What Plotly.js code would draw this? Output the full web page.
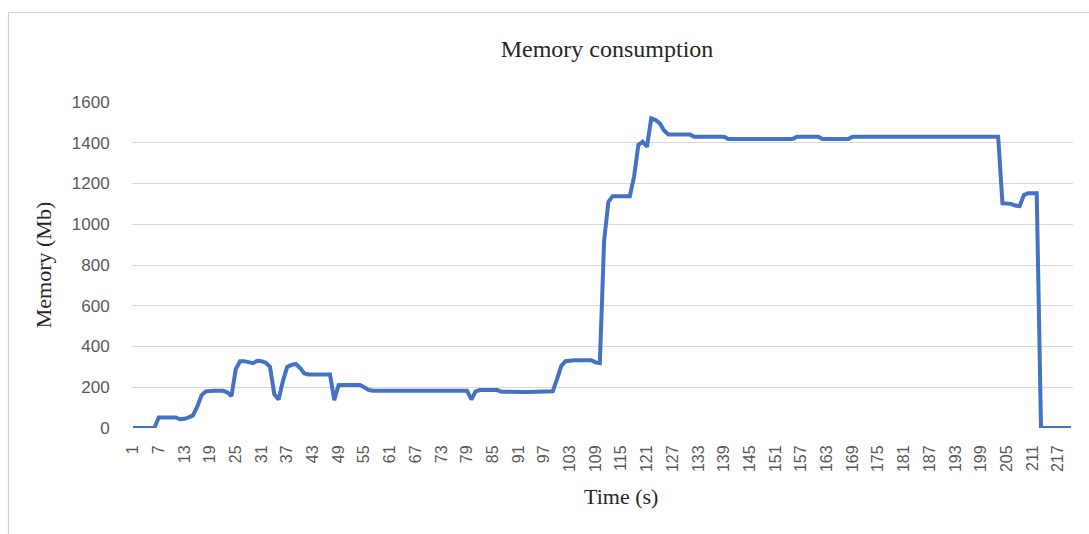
<!DOCTYPE html>
<html>
<head>
<meta charset="utf-8">
<script src="https://cdn.plot.ly/plotly-3.0.1.min.js"></script>
<style>
  html, body { margin: 0; padding: 0; background: #ffffff; overflow: hidden; }
  #chart { width: 1089px; height: 534px; }
</style>
</head>
<body>
<div id="chart"></div>
<script>
// Memory (Mb) sampled every second, t = 1 .. 220
const memory = [
  0, 0, 0, 0, 0, 0, 52, 52, 52, 52,
  52, 43, 45, 52, 62, 105, 160, 180, 183, 183,
  183, 183, 175, 157, 290, 328, 328, 325, 318, 330,
  328, 320, 300, 165, 140, 230, 300, 310, 314, 295,
  268, 263, 263, 263, 263, 263, 263, 137, 210, 211,
  211, 211, 211, 211, 200, 187, 183, 183, 183, 183,
  183, 183, 183, 183, 183, 183, 183, 183, 183, 183,
  183, 183, 183, 183, 183, 183, 183, 183, 183, 140,
  180, 186, 186, 186, 186, 186, 178, 177, 177, 177,
  177, 177, 177, 177, 177, 177, 177, 177, 180, 240,
  305, 328, 333, 333, 333, 333, 333, 333, 322, 318,
  920, 1110, 1138, 1138, 1138, 1138, 1138, 1235, 1390, 1405,
  1380, 1520, 1512, 1495, 1460, 1441, 1441, 1441, 1441, 1441,
  1441, 1430, 1430, 1430, 1430, 1430, 1430, 1430, 1430, 1418,
  1418, 1418, 1418, 1418, 1418, 1418, 1418, 1418, 1418, 1418,
  1418, 1418, 1418, 1418, 1418, 1430, 1430, 1430, 1430, 1430,
  1430, 1418, 1418, 1418, 1418, 1418, 1418, 1418, 1430, 1430,
  1430, 1430, 1430, 1430, 1430, 1430, 1430, 1430, 1430, 1430,
  1430, 1430, 1430, 1430, 1430, 1430, 1430, 1430, 1430, 1430,
  1430, 1430, 1430, 1430, 1430, 1430, 1430, 1430, 1430, 1430,
  1430, 1430, 1430, 1103, 1103, 1100, 1092, 1089, 1143, 1152,
  1152, 1152, 0, 0, 0, 0, 0, 0, 0, 0
];
// time categories (s)
const timeSec = memory.map((_, i) => i + 1);
// x tick labels shown on the axis
const xTickLabels = [1, 7, 13, 19, 25, 31, 37, 43, 49, 55, 61, 67, 73, 79, 85, 91, 97,
  103, 109, 115, 121, 127, 133, 139, 145, 151, 157, 163, 169, 175, 181, 187, 193, 199,
  205, 211, 217];
// y tick values
const yTicks = [0, 200, 400, 600, 800, 1000, 1200, 1400, 1600];

const chartTitle = "Memory consumption";
const xTitle = "Time (s)";
const yTitle = "Memory (Mb)";

const trace = {
  type: "scatter",
  mode: "lines",
  x: timeSec,
  y: memory,
  line: { color: "#4472C4", width: 4 },
  hoverinfo: "x+y",
  showlegend: false
};

const W = 1089, H = 534;
const L = 132, R = 16, T = 102, B = 106;
const pw = W - L - R, ph = H - T - B;

const layout = {
  width: W,
  height: H,
  margin: { l: L, r: R, t: T, b: B, pad: 0 },
  paper_bgcolor: "#ffffff",
  plot_bgcolor: "#ffffff",
  showlegend: false,
  title: {
    text: chartTitle,
    font: { family: "Liberation Serif, Times New Roman, serif", size: 24, color: "#262626" },
    x: 607 / W,
    xanchor: "center",
    y: 1 - 49 / H,
    yanchor: "middle"
  },
  xaxis: {
    type: "linear",
    range: [0.77, 220.47],
    tickmode: "array",
    tickvals: xTickLabels,
    ticktext: xTickLabels.map(String),
    tickangle: -90,
    ticks: "outside",
    ticklen: 10,
    tickcolor: "rgba(0,0,0,0)",
    tickfont: { family: "Liberation Sans, Arial, sans-serif", size: 16, color: "#595959" },
    showgrid: false,
    zeroline: false,
    showline: false,
    fixedrange: true
  },
  yaxis: {
    range: [0, 1600],
    tickmode: "array",
    tickvals: yTicks,
    ticktext: yTicks.map(String),
    ticks: "outside",
    ticklen: 18,
    tickcolor: "rgba(0,0,0,0)",
    tickfont: { family: "Liberation Sans, Arial, sans-serif", size: 17, color: "#595959" },
    showgrid: true,
    gridcolor: "#D9D9D9",
    gridwidth: 1,
    zeroline: false,
    showline: false,
    title: {
      text: yTitle,
      font: { family: "Liberation Serif, Times New Roman, serif", size: 22, color: "#262626" },
      standoff: 14
    },
    fixedrange: true
  },
  annotations: [
    {
      text: xTitle,
      xref: "paper", yref: "paper",
      x: (621 - L) / pw, y: (H - B - 497) / ph,
      xanchor: "center", yanchor: "middle",
      showarrow: false,
      font: { family: "Liberation Serif, Times New Roman, serif", size: 22, color: "#262626" }
    }
  ],
  shapes: [
    {
      type: "line", xref: "paper", yref: "paper",
      x0: (8.5 - L) / pw, x1: (8.5 - L) / pw,
      y0: (H - B - 12.5) / ph, y1: (H - B - 540) / ph,
      line: { color: "#D0D0D0", width: 1.2 }
    },
    {
      type: "line", xref: "paper", yref: "paper",
      x0: (8.5 - L) / pw, x1: (1100 - L) / pw,
      y0: (H - B - 12.5) / ph, y1: (H - B - 12.5) / ph,
      line: { color: "#D0D0D0", width: 1.2 }
    }
  ]
};

Plotly.newPlot("chart", [trace], layout, { displayModeBar: false, staticPlot: false });
</script>
</body>
</html>
